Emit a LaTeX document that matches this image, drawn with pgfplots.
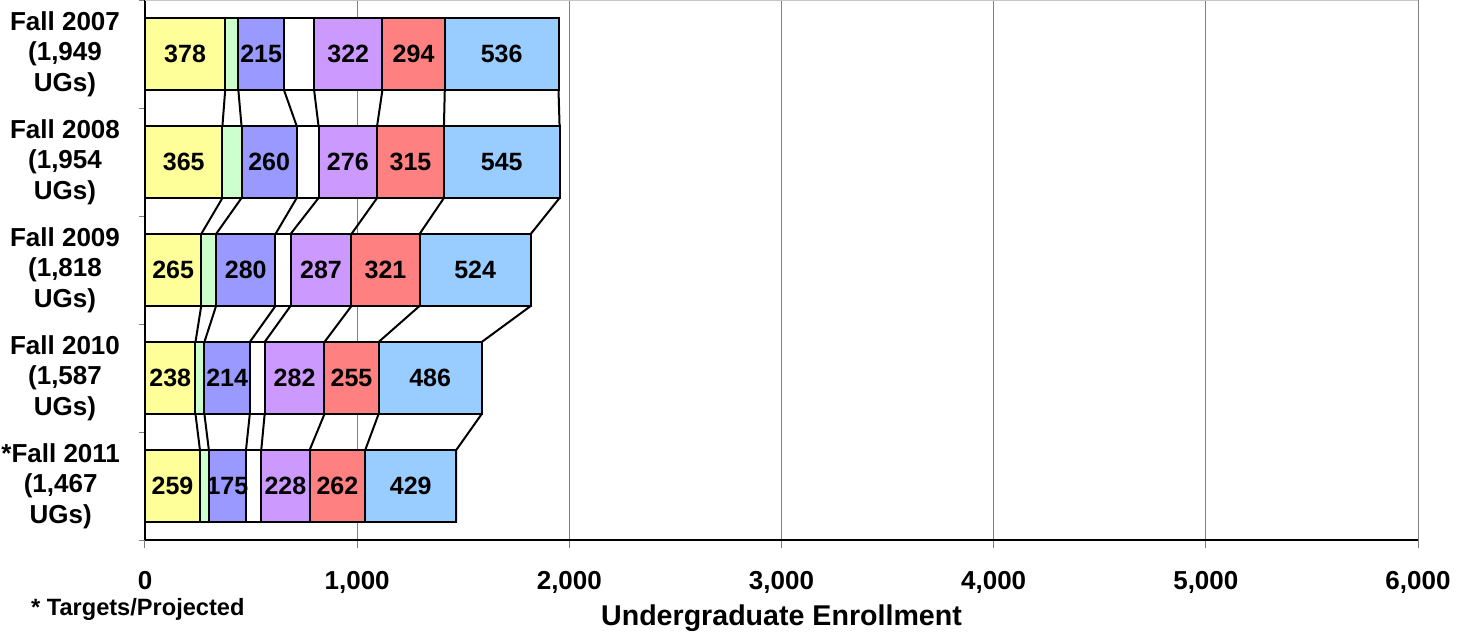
\documentclass[border=0pt]{standalone}
\usepackage{fontspec}
\setmainfont{Liberation Sans}
\usepackage{pgfplots}
\usepackage{pgfplotstable}
\pgfplotsset{compat=1.18}

\definecolor{cYel}{HTML}{FFFF99}
\definecolor{cGrn}{HTML}{CCFFCC}
\definecolor{cBlu}{HTML}{9999FF}
\definecolor{cPur}{HTML}{CC99FF}
\definecolor{cRed}{HTML}{FF8080}
\definecolor{cLbl}{HTML}{99CCFF}

% segment sizes per term (green and white segments carry no label)
\pgfplotstableread{
idx yel grn blu wht pur red lbl
0   378 62  215 142 322 294 536
1   365 90  260 103 276 315 545
2   265 70  280 71  287 321 524
3   238 42  214 70  282 255 486
4   259 42  175 72  228 262 429
}\enroll

% cumulative boundaries, bottom/top of each bar, for the series lines
\pgfplotstableread{
y       c1  c2  c3  c4  c5   c6   c7
-0.3333 378 440 655 797 1119 1413 1949
0.3333  378 440 655 797 1119 1413 1949
0.6667  365 455 715 818 1094 1409 1954
1.3333  365 455 715 818 1094 1409 1954
1.6667  265 335 615 686 973  1294 1818
2.3333  265 335 615 686 973  1294 1818
2.6667  238 280 494 564 846  1101 1587
3.3333  238 280 494 564 846  1101 1587
3.6667  259 301 476 548 776  1038 1467
4.3333  259 301 476 548 776  1038 1467
}\cum

\begin{document}
\begin{tikzpicture}
\useasboundingbox (-72.5pt,-47.5pt) rectangle (662.5pt,270pt);
\begin{axis}[
  width=636.5pt, height=270pt, scale only axis,
  xbar stacked, bar width=0.6667,
  xmin=0, xmax=6000,
  ymin=-0.5, ymax=4.5, y dir=reverse,
  axis x line=bottom, axis y line=left,
  axis line style={-, black, line width=0.6pt},
  xtick={0,1000,...,6000},
  /pgf/number format/1000 sep={,},
  /pgf/number format/assume math mode=true,
  xmajorgrids, major grid style={gray, line width=0.5pt},
  tick align=outside,
  major tick length=4pt,
  x tick style={gray, line width=0.5pt},
  ytick={0,1,2,3,4},
  major y tick style={draw=none},
  minor ytick={-0.5,0.5,1.5,2.5,3.5,4.5},
  minor y tick style={gray, line width=0.5pt},
  minor tick length=3pt,
  extra y ticks={-0.5}, extra y tick labels={},
  extra y tick style={ymajorgrids, major grid style={gray!45, line width=0.5pt}, major y tick style={draw=none}},
  yticklabels={{Fall 2007\\(1,949\\UGs)},{Fall 2008\\(1,954\\UGs)},{Fall 2009\\(1,818\\UGs)},{Fall 2010\\(1,587\\UGs)},{*Fall 2011\\(1,467\\UGs)}},
  yticklabel style={align=center, font=\bfseries\fontsize{13}{15.2}\selectfont, xshift=-5pt},
  xticklabel style={font=\bfseries\fontsize{13}{15}\selectfont, yshift=-8pt},
  xlabel={Undergraduate Enrollment},
  xlabel style={font=\bfseries\fontsize{14.3}{16}\selectfont, at={(axis description cs:0.5,-0.145)}, anchor=center},
  every axis plot/.append style={draw=black, line width=1pt},
  point meta=rawx,
  nodes near coords align={anchor=center},
  every node near coord/.append style={font=\bfseries\fontsize{12.5}{15}\selectfont, black},
  clip=false,
]
\addplot[fill=cYel, nodes near coords] table[y=idx, x=yel] {\enroll};
\addplot[fill=cGrn] table[y=idx, x=grn] {\enroll};
\addplot[fill=cBlu, nodes near coords] table[y=idx, x=blu] {\enroll};
\addplot[fill=white] table[y=idx, x=wht] {\enroll};
\addplot[fill=cPur, nodes near coords] table[y=idx, x=pur] {\enroll};
\addplot[fill=cRed, nodes near coords] table[y=idx, x=red] {\enroll};
\addplot[fill=cLbl, nodes near coords] table[y=idx, x=lbl] {\enroll};

\addplot[sharp plot, stack plots=false, black, line width=1pt, mark=none] table[x=c1, y=y] {\cum};
\addplot[sharp plot, stack plots=false, black, line width=1pt, mark=none] table[x=c2, y=y] {\cum};
\addplot[sharp plot, stack plots=false, black, line width=1pt, mark=none] table[x=c3, y=y] {\cum};
\addplot[sharp plot, stack plots=false, black, line width=1pt, mark=none] table[x=c4, y=y] {\cum};
\addplot[sharp plot, stack plots=false, black, line width=1pt, mark=none] table[x=c5, y=y] {\cum};
\addplot[sharp plot, stack plots=false, black, line width=1pt, mark=none] table[x=c6, y=y] {\cum};
\addplot[sharp plot, stack plots=false, black, line width=1pt, mark=none] table[x=c7, y=y] {\cum};

\node[anchor=west, font=\bfseries\fontsize{11.8}{14}\selectfont] at (rel axis cs:-0.095,-0.128) {* Targets/Projected};
\end{axis}
\end{tikzpicture}
\end{document}
